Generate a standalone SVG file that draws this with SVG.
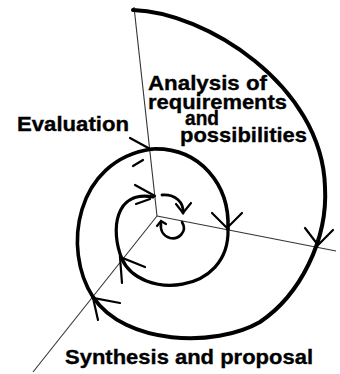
<svg xmlns="http://www.w3.org/2000/svg" width="340" height="374" viewBox="0 0 340 374">
<style>
.t{font-family:"Liberation Sans",Arial,sans-serif;font-weight:bold;font-size:21px;fill:#000;stroke:#000;stroke-width:0.35}
.ax{stroke:#333;stroke-width:1.1;fill:none}
.sp{stroke:#000;fill:none;stroke-linecap:round}
.ah{stroke:#000;stroke-width:2.2;fill:none;stroke-linecap:round}
</style>
<rect width="340" height="374" fill="#fff"/>
<g id="connectors">
<line class="ax" x1="157" y1="216" x2="134" y2="7"/>
<line class="ax" x1="157" y1="216" x2="336" y2="251"/>
<line class="ax" x1="157" y1="216" x2="33" y2="372"/>
<path class="sp" stroke-width="4" d="M133,10 C205,12 322,85 325,187 C328,240 300,295 260,322 C215,348 125,345 93,297"/>
<path class="sp" stroke-width="3.6" d="M93,297 C62,250 75,160 152,149 C200,147 230,185 228,229"/>
<path class="sp" stroke-width="3.2" d="M228,229 C230,295 140,300 122,259 C110,230 115,190 153,197"/>
<path class="sp" stroke-width="2.8" d="M162,195 C175,194 184,202 183,213"/>
<path class="sp" stroke-width="2.6" d="M182,222 C188,232 178,240 170,238 C163,236 160,230 161,223"/>
<path class="ah" d="M305,228 L318,245 L333,230"/>
<path class="ah" d="M120,303 L93,298 L98,320"/>
<path class="ah" d="M130,138 L152,150 M133,166 L143,160"/>
<path class="ah" d="M212,213 L227,228 L242,213"/>
<path class="ah" d="M122,283 L120,257 L145,267"/>
<path class="ah" d="M135,185 L155,196 M136,204 L150,199"/>
<path class="ah" d="M176,204 L183,213 L191,203"/>
<path class="ah" stroke-width="1.8" d="M157,226 L161,221 L166,224"/>
</g>
<g id="analysis"><text class="t" x="148" y="90" textLength="119" lengthAdjust="spacingAndGlyphs">Analysis of</text>
<text class="t" x="148" y="109" textLength="139" lengthAdjust="spacingAndGlyphs">requirements</text>
<text class="t" x="185" y="125" textLength="34" lengthAdjust="spacingAndGlyphs">and</text>
<text class="t" x="180" y="142" textLength="127" lengthAdjust="spacingAndGlyphs">possibilities</text></g>
<g id="evaluation"><text class="t" x="17" y="131" textLength="112" lengthAdjust="spacingAndGlyphs">Evaluation</text></g>
<g id="synthesis"><text class="t" x="65" y="364" textLength="248" lengthAdjust="spacingAndGlyphs">Synthesis and proposal</text></g>
</svg>
